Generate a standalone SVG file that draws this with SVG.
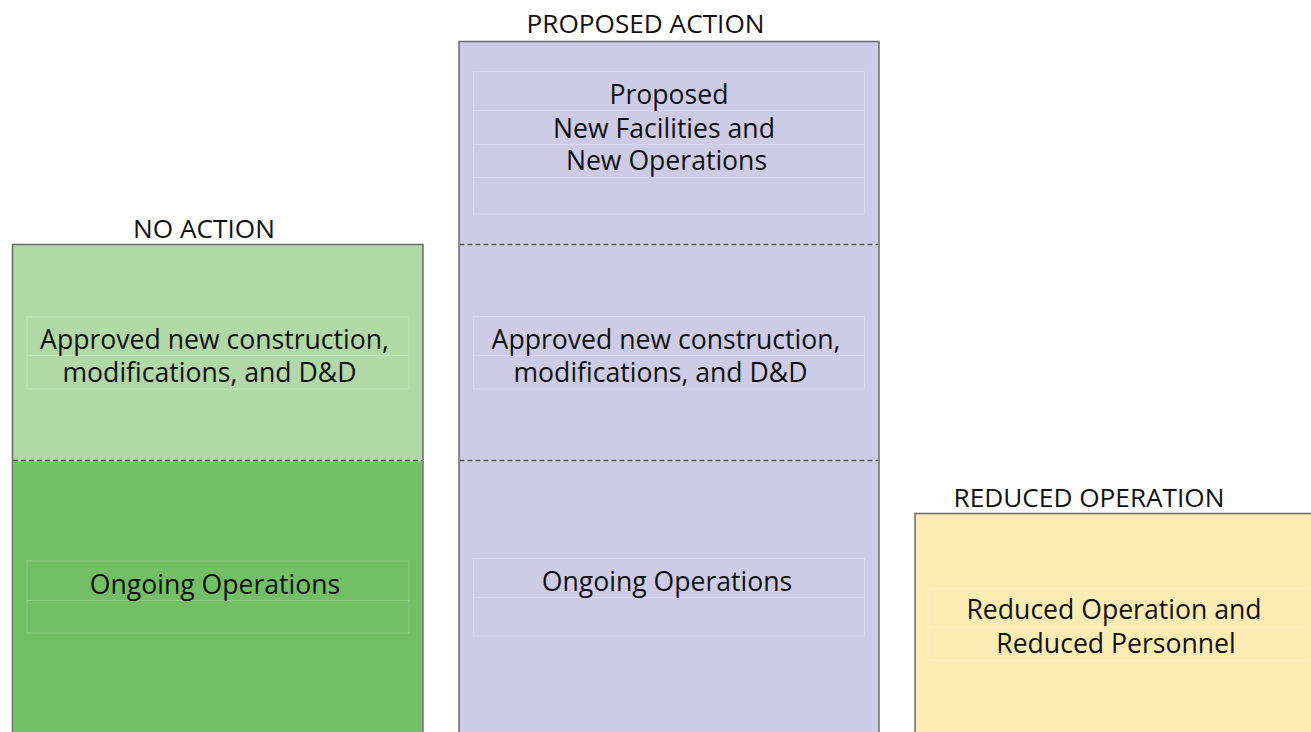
<svg xmlns="http://www.w3.org/2000/svg" width="1311" height="732" viewBox="0 0 1311 732">
<style>
.t{font-family:"Open Sans","Liberation Sans",sans-serif;font-size:26.6px;fill:#111;text-anchor:middle}
.h{font-family:"Open Sans","Liberation Sans",sans-serif;font-size:26.2px;fill:#111;text-anchor:middle}
.box{stroke:#6a6a6a;stroke-width:1.5}
.dash{stroke:#4a4a4a;stroke-width:1.5;stroke-dasharray:5 3}
.dashbg{stroke:#fff;stroke-width:1.5}
.frame{fill:none;stroke:#ffffff;stroke-opacity:0.22;stroke-width:1}
</style>
<rect width="1311" height="732" fill="#fff"/>
<g id="no-action">
<text class="h" x="204" y="238">NO ACTION</text>
<rect class="box" x="12.5" y="244.5" width="410.5" height="500" fill="#b1d8a7"/>
<rect x="13.25" y="460.5" width="409" height="280" fill="#72bf66"/>
<line class="dashbg" x1="13" y1="460.5" x2="422.5" y2="460.5"/>
<line class="dash" x1="13" y1="460.5" x2="422.5" y2="460.5"/>
<rect class="frame" x="27" y="317" width="382" height="72"/>
<line class="frame" x1="27" y1="355.5" x2="409" y2="355.5"/>
<rect class="frame" x="27" y="561" width="382" height="72"/>
<line class="frame" x1="27" y1="600.5" x2="409" y2="600.5"/>
<text class="t" x="214.5" y="348.5">Approved new construction,</text>
<text class="t" x="209.5" y="381.5">modifications, and D&amp;D</text>
<text class="t" x="215" y="594">Ongoing Operations</text>
</g>
<g id="proposed-action">
<text class="h" x="645.5" y="33">PROPOSED ACTION</text>
<rect class="box" x="459" y="41.5" width="420" height="700" fill="#cecbe7"/>
<line class="dashbg" x1="459.5" y1="244.5" x2="878.5" y2="244.5"/>
<line class="dash" x1="459.5" y1="244.5" x2="878.5" y2="244.5"/>
<line class="dashbg" x1="459.5" y1="460.5" x2="878.5" y2="460.5"/>
<line class="dash" x1="459.5" y1="460.5" x2="878.5" y2="460.5"/>
<rect class="frame" x="473.5" y="71.5" width="391" height="142.5"/>
<line class="frame" x1="473.5" y1="110.5" x2="864.5" y2="110.5"/>
<line class="frame" x1="473.5" y1="144.5" x2="864.5" y2="144.5"/>
<line class="frame" x1="473.5" y1="177.5" x2="864.5" y2="177.5"/>
<rect class="frame" x="473.5" y="316.5" width="391" height="72.5"/>
<line class="frame" x1="473.5" y1="355.5" x2="864.5" y2="355.5"/>
<rect class="frame" x="473.5" y="558.5" width="391" height="77.5"/>
<line class="frame" x1="473.5" y1="597.5" x2="864.5" y2="597.5"/>
<text class="t" x="669" y="103.5">Proposed</text>
<text class="t" x="664" y="137.5">New Facilities and</text>
<text class="t" x="666.5" y="170">New Operations</text>
<text class="t" x="666" y="349">Approved new construction,</text>
<text class="t" x="660.5" y="382">modifications, and D&amp;D</text>
<text class="t" x="667" y="591">Ongoing Operations</text>
</g>
<g id="reduced-operation">
<text class="h" x="1089" y="506.5">REDUCED OPERATION</text>
<rect class="box" x="915" y="513.5" width="420" height="240" fill="#fcebb3"/>
<rect class="frame" x="929.5" y="588.5" width="379" height="72"/>
<line class="frame" x1="929.5" y1="627" x2="1308.5" y2="627"/>
<text class="t" x="1114" y="618.5">Reduced Operation and</text>
<text class="t" x="1116" y="653">Reduced Personnel</text>
</g>
<g id="connectors"/>
</svg>
